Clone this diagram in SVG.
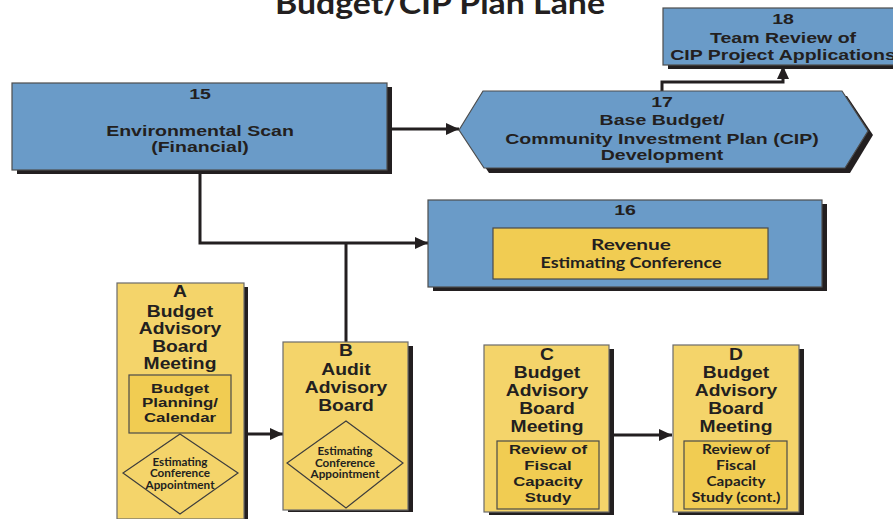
<svg xmlns="http://www.w3.org/2000/svg" width="893" height="519" viewBox="0 0 893 519">
  <style>
    .hd { font-family: "Liberation Sans", Arial, sans-serif; font-weight: bold; fill: #231f20; text-anchor: middle; }
    .big { font-size: 15.5px; }
    .ttl { font-size: 16.5px; }
    .sm { font-size: 13.5px; }
    .lt { font-family: Lato, "Open Sans", sans-serif; font-weight: bold; fill: #231f20; text-anchor: middle; }
    .blue { fill: #6a9bc8; stroke: #4d4d4d; stroke-width: 1.2; }
    .yel { fill: #f4d46a; stroke: #6b6b6b; stroke-width: 1.2; }
    .inner { fill: #f1cc52; stroke: #4a4a4a; stroke-width: 1.2; }
    .dia { fill: none; stroke: #3d3d3d; stroke-width: 1.2; }
    .shadow { fill: #231f20; }
    .wire { fill: none; stroke: #231f20; stroke-width: 3; }
  </style>
  <defs>
    <marker id="arrow" markerUnits="userSpaceOnUse" markerWidth="14" markerHeight="12" refX="13" refY="6" orient="auto">
      <path d="M0,0 L13,6 L0,12 z" fill="#231f20"/>
    </marker>
  </defs>

  <rect width="893" height="519" fill="#ffffff"/>

  <!-- lane title -->
  <text x="440" y="14" font-family="Lato, 'Open Sans', sans-serif" font-weight="bold" font-size="31" fill="#231f20" text-anchor="middle" textLength="330" lengthAdjust="spacingAndGlyphs">Budget/CIP Plan Lane</text>

  <!-- connectors -->
  <g id="connectors">
    <path class="wire" d="M387,129 H459" marker-end="url(#arrow)"/>
    <path class="wire" d="M200,170 V243 H428" marker-end="url(#arrow)"/>
    <path class="wire" d="M346,342 V243"/>
    <path class="wire" d="M662,91 V82 H783 V66" marker-end="url(#arrow)"/>
    <path class="wire" d="M248,434 H283" marker-end="url(#arrow)"/>
    <path class="wire" d="M614,435 H672" marker-end="url(#arrow)"/>
  </g>

  <!-- 15 Environmental Scan -->
  <g id="node-15">
    <rect class="shadow" x="17" y="87" width="375" height="87"/>
    <rect class="blue" x="12" y="83" width="375" height="87"/>
    <text class="hd big" transform="translate(200,98.5) scale(1.26,1)">15</text>
    <text class="hd big" transform="translate(200,135.5) scale(1.26,1)">Environmental Scan</text>
    <text class="hd big" transform="translate(200,152) scale(1.26,1)">(Financial)</text>
  </g>

  <!-- 17 Base Budget / CIP Development -->
  <g id="node-17">
    <polygon class="shadow" points="464,135 488,96 847,96 873,135 850,173 489,173"/>
    <polygon class="blue" points="459,130 483,91 842,91 868,131 845,168 484,168"/>
    <text class="hd big" transform="translate(662,107) scale(1.26,1)">17</text>
    <text class="hd big" transform="translate(662,125) scale(1.26,1)">Base Budget/</text>
    <text class="hd big" transform="translate(662,143.5) scale(1.26,1)">Community Investment Plan (CIP)</text>
    <text class="hd big" transform="translate(662,160) scale(1.26,1)">Development</text>
  </g>

  <!-- 18 Team Review -->
  <g id="node-18">
    <rect class="shadow" x="668" y="12" width="242" height="57"/>
    <rect class="blue" x="663" y="8" width="242" height="57"/>
    <text class="hd big" transform="translate(783,24) scale(1.26,1)">18</text>
    <text class="hd big" transform="translate(783,42.5) scale(1.26,1)">Team Review of</text>
    <text class="hd big" transform="translate(783,60) scale(1.26,1)">CIP Project Applications</text>
  </g>

  <!-- 16 Revenue Estimating Conference -->
  <g id="node-16">
    <rect class="shadow" x="433" y="204" width="394" height="87"/>
    <rect class="blue" x="428" y="200" width="394" height="87"/>
    <text class="hd big" transform="translate(625,215) scale(1.26,1)">16</text>
    <rect class="inner" x="493" y="228" width="275" height="51" fill="#f3d05c"/>
    <text class="lt" x="631" y="249.5" font-size="15.5" textLength="80" lengthAdjust="spacingAndGlyphs">Revenue</text>
    <text class="lt" x="631" y="267.5" font-size="15.5" textLength="181" lengthAdjust="spacingAndGlyphs">Estimating Conference</text>
  </g>

  <!-- A Budget Advisory Board Meeting -->
  <g id="node-A">
    <rect class="shadow" x="122" y="287" width="126" height="240"/>
    <rect class="yel" x="117" y="283" width="127" height="236"/>
    <text class="hd ttl" transform="translate(180,297) scale(1.17,1)">A</text>
    <text class="hd ttl" transform="translate(180,316.5) scale(1.17,1)">Budget</text>
    <text class="hd ttl" transform="translate(180,334) scale(1.17,1)">Advisory</text>
    <text class="hd ttl" transform="translate(180,351.5) scale(1.17,1)">Board</text>
    <text class="hd ttl" transform="translate(180,369) scale(1.17,1)">Meeting</text>
    <rect class="inner" x="129" y="375" width="102" height="58"/>
    <text class="hd sm" transform="translate(180,392.5) scale(1.25,1)">Budget</text>
    <text class="hd sm" transform="translate(180,407) scale(1.25,1)">Planning/</text>
    <text class="hd sm" transform="translate(180,421.5) scale(1.25,1)">Calendar</text>
    <polygon class="dia" points="180,434 238,473 180,514 123,473"/>
    <text class="lt" x="180" y="466" font-size="10.5" textLength="55" lengthAdjust="spacingAndGlyphs">Estimating</text>
    <text class="lt" x="180" y="477" font-size="10.5" textLength="60" lengthAdjust="spacingAndGlyphs">Conference</text>
    <text class="lt" x="180" y="488.5" font-size="10.5" textLength="69" lengthAdjust="spacingAndGlyphs">Appointment</text>
  </g>

  <!-- B Audit Advisory Board -->
  <g id="node-B">
    <rect class="shadow" x="288" y="346" width="125" height="166"/>
    <rect class="yel" x="283" y="342" width="125" height="168"/>
    <text class="hd ttl" transform="translate(346,356) scale(1.17,1)">B</text>
    <text class="hd ttl" transform="translate(346,374.5) scale(1.17,1)">Audit</text>
    <text class="hd ttl" transform="translate(346,392.5) scale(1.17,1)">Advisory</text>
    <text class="hd ttl" transform="translate(346,410.5) scale(1.17,1)">Board</text>
    <polygon class="dia" points="346,421 403,463 346,508 287,463"/>
    <text class="lt" x="345" y="455" font-size="10.5" textLength="55" lengthAdjust="spacingAndGlyphs">Estimating</text>
    <text class="lt" x="345" y="466.5" font-size="10.5" textLength="60" lengthAdjust="spacingAndGlyphs">Conference</text>
    <text class="lt" x="345" y="478" font-size="10.5" textLength="69" lengthAdjust="spacingAndGlyphs">Appointment</text>
  </g>

  <!-- C Budget Advisory Board Meeting -->
  <g id="node-C">
    <rect class="shadow" x="489" y="349" width="125" height="166"/>
    <rect class="yel" x="484" y="345" width="125" height="167"/>
    <text class="hd ttl" transform="translate(547,359.5) scale(1.17,1)">C</text>
    <text class="hd ttl" transform="translate(547,377.5) scale(1.17,1)">Budget</text>
    <text class="hd ttl" transform="translate(547,395.5) scale(1.17,1)">Advisory</text>
    <text class="hd ttl" transform="translate(547,414) scale(1.17,1)">Board</text>
    <text class="hd ttl" transform="translate(547,431.5) scale(1.17,1)">Meeting</text>
    <rect class="inner" x="497" y="441" width="102" height="68"/>
    <text class="hd sm" transform="translate(548,454) scale(1.24,1)">Review of</text>
    <text class="hd sm" transform="translate(548,470) scale(1.24,1)">Fiscal</text>
    <text class="hd sm" transform="translate(548,486) scale(1.24,1)">Capacity</text>
    <text class="hd sm" transform="translate(548,501.5) scale(1.24,1)">Study</text>
  </g>

  <!-- D Budget Advisory Board Meeting -->
  <g id="node-D">
    <rect class="shadow" x="678" y="349" width="126" height="166"/>
    <rect class="yel" x="673" y="345" width="126" height="167"/>
    <text class="hd ttl" transform="translate(736,359.5) scale(1.17,1)">D</text>
    <text class="hd ttl" transform="translate(736,377.5) scale(1.17,1)">Budget</text>
    <text class="hd ttl" transform="translate(736,395.5) scale(1.17,1)">Advisory</text>
    <text class="hd ttl" transform="translate(736,414) scale(1.17,1)">Board</text>
    <text class="hd ttl" transform="translate(736,431.5) scale(1.17,1)">Meeting</text>
    <rect class="inner" x="684" y="441" width="103" height="68"/>
    <text class="lt" x="736" y="454" font-size="14" textLength="68" lengthAdjust="spacingAndGlyphs">Review of</text>
    <text class="lt" x="736" y="470" font-size="14" textLength="40" lengthAdjust="spacingAndGlyphs">Fiscal</text>
    <text class="lt" x="736" y="486" font-size="14" textLength="59" lengthAdjust="spacingAndGlyphs">Capacity</text>
    <text class="lt" x="736" y="501.5" font-size="14" textLength="89" lengthAdjust="spacingAndGlyphs">Study (cont.)</text>
  </g>
</svg>
